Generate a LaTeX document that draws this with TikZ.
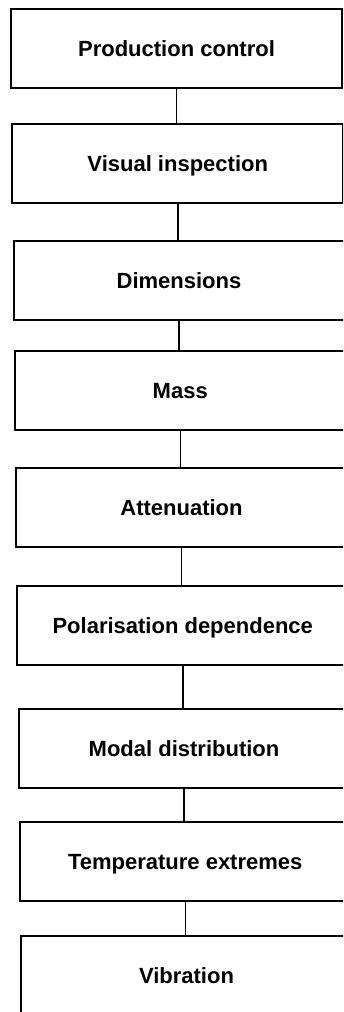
\documentclass[tikz,border=0pt]{standalone}
\usepackage{fontspec}
\setmainfont{Liberation Sans}

\begin{document}
\begin{tikzpicture}[x=1pt, y=-1pt,
  box/.style={draw, line width=2pt, minimum width=331pt, minimum height=79pt, inner sep=0pt,
    text height=16pt, text depth=0pt, font=\fontsize{22}{26}\selectfont\bfseries},
  link/.style={line width=1.5pt}
]
\useasboundingbox (0,0) rectangle (343,1012);
\clip (0,0) rectangle (343,1012);
\node[box] (prod) at (176.5,48.5) {Production control};
\node[box] (visual) at (177.75,163.5) {Visual inspection};
\node[box] (dims) at (179,280.5) {Dimensions};
\node[box] (mass) at (180.25,390.5) {Mass};
\node[box] (atten) at (181.5,507.5) {Attenuation};
\node[box] (polar) at (182.75,625.5) {Polarisation dependence};
\node[box] (modal) at (184,748.5) {Modal distribution};
\node[box] (temp) at (185.25,861.5) {Temperature extremes};
\node[box] (vib) at (186.5,975.5) {Vibration};
\draw[link] (prod.south) -- (prod.south |- visual.north);
\draw[link] (visual.south) -- (visual.south |- dims.north);
\draw[link] (dims.south) -- (dims.south |- mass.north);
\draw[link] (mass.south) -- (mass.south |- atten.north);
\draw[link] (atten.south) -- (atten.south |- polar.north);
\draw[link] (polar.south) -- (polar.south |- modal.north);
\draw[link] (modal.south) -- (modal.south |- temp.north);
\draw[link] (temp.south) -- (temp.south |- vib.north);
\end{tikzpicture}
\end{document}
